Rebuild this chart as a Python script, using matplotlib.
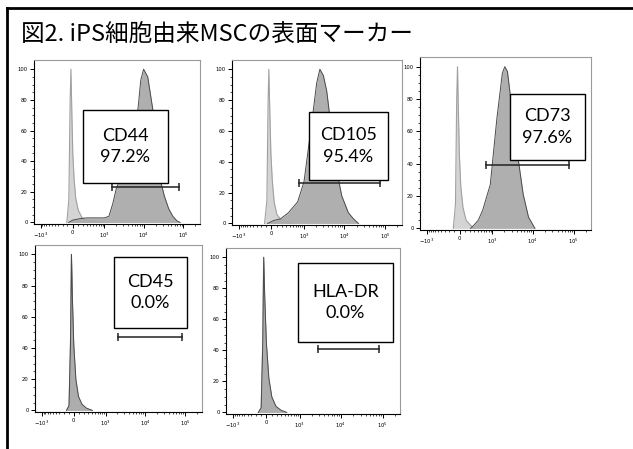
import numpy as np
import matplotlib
matplotlib.use("Agg")
import matplotlib.pyplot as plt
from matplotlib.lines import Line2D
from matplotlib.patches import Rectangle
from matplotlib.ticker import FixedLocator, FixedFormatter

# marker names and % positive
names = ["CD44", "CD105", "CD73", "CD45", "HLA-DR"]
pct = [97.2, 95.4, 97.6, 0.0, 0.0]

# stained sample histograms (fluorescence, % of mode)
cd44_x = [-73, 0, 148, 300, 545, 745, 1000, 1320, 1650, 2040, 2510, 3280, 4260, 5580, 7280,
          8500, 10000, 12700, 17200, 21900, 27900, 33500, 42700, 54400, 69400, 83300]
cd44_y = [0, 1.5, 2.5, 3, 3, 3, 3, 4, 12, 22, 28, 35, 45, 58, 75,
          93, 100, 95, 73, 45, 25, 17, 9, 4, 1, 0]
cd105_x = [-72, 48, 176, 365, 680, 1000, 1285, 1640, 2090, 2510, 3060, 3700, 4250, 5380,
           6830, 8650, 12600, 16800, 22400]
cd105_y = [0, 2, 3, 7, 14, 27, 48, 69, 91, 100, 96, 86, 73, 52, 32, 18, 7, 3, 0]
cd73_x = [212, 290, 405, 545, 880, 1300, 1780, 2045, 2380, 2900, 4090, 5790, 7800, 11200]
cd73_y = [0, 2, 5, 11, 27, 68, 96, 100, 97, 79, 48, 21, 7, 0]
cd45_x = [-140, -90, -60, -43, -25, 0, 40, 90, 160, 260, 420]
cd45_y = [0, 3, 45, 100, 72, 42, 20, 9, 4, 1.5, 0]
hla_x = [-150, -95, -65, -48, -30, 0, 45, 100, 180, 290, 450]
hla_y = [0, 3, 45, 100, 75, 45, 22, 10, 4, 1.5, 0]

# isotype / unstained controls
ctl1_x = [-110, -70, -45, -30, -15, 5, 30, 60, 110, 190, 300, 450, 700, 1000]
ctl1_y = [0, 15, 80, 100, 75, 45, 28, 16, 8, 3, 1.5, 0.8, 0.3, 0]
ctl2_x = [-130, -85, -62, -48, -32, -10, 15, 50, 100, 180, 300, 500]
ctl2_y = [0, 15, 80, 100, 75, 45, 28, 14, 6, 2.5, 1, 0]
ctl3_x = [-120, -78, -55, -40, -25, -5, 20, 60, 120, 210, 300]
ctl3_y = [0, 15, 80, 100, 75, 45, 26, 13, 5, 2, 0]
ctl4_x = [-140, -90, -62, -45, -28, 0, 35, 80, 150, 250, 400]
ctl4_y = [0, 3, 45, 100, 70, 40, 18, 8, 3, 1, 0]
ctl5_x = [-150, -95, -67, -50, -32, 0, 40, 95, 170, 280, 430]
ctl5_y = [0, 3, 45, 100, 72, 42, 20, 9, 3.5, 1, 0]

# gates (low, high, height)
gate_lo = [1560, 730, 680, 2080, 2760]
gate_hi = [76700, 74200, 75300, 84200, 81000]
gate_y = [23, 26, 39, 47, 41]

samples = [(cd44_x, cd44_y), (cd105_x, cd105_y), (cd73_x, cd73_y), (cd45_x, cd45_y), (hla_x, hla_y)]
controls = [(ctl1_x, ctl1_y), (ctl2_x, ctl2_y), (ctl3_x, ctl3_y), (ctl4_x, ctl4_y), (ctl5_x, ctl5_y)]

W, H = 633, 449
# axes boxes in pixels: x0, x1, y0(top), y1(bottom)
boxes = [(34, 200, 60, 224), (232, 402, 60, 225), (420, 591, 57, 230),
         (35, 202, 245, 412), (226, 400, 248, 414)]
# label boxes in axes fraction: x0, x1, y0, y1
lab_boxes = [(0.295, 0.807, 0.25, 0.695), (0.453, 0.918, 0.273, 0.685),
             (0.526, 0.965, 0.405, 0.786), (0.473, 0.91, 0.503, 0.928),
             (0.414, 0.96, 0.434, 0.91)]

WID = 326.0


def fwd(v):
    return np.arcsinh(np.asarray(v, dtype=float) / WID)


def inv(v):
    return WID * np.sinh(np.asarray(v, dtype=float))


major = [-1000, 0, 1000, 10000, 100000]
major_lab = [r"$-10^3$", "0", r"$10^3$", r"$10^4$", r"$10^5$"]
minor = [-k * 100 for k in range(1, 10)] + [k * 100 for k in range(1, 10)]
minor += [k * 1000 for k in range(2, 10)] + [k * 10000 for k in range(2, 10)] + [200000]

fig = plt.figure(figsize=(W / 100, H / 100), dpi=100)
fig.patch.set_facecolor("white")

for i in range(5):
    x0, x1, yt, yb = boxes[i]
    ax = fig.add_axes([x0 / W, 1 - yb / H, (x1 - x0) / W, (yb - yt) / H])
    ax.set_xscale("function", functions=(fwd, inv))
    ax.set_xlim(-1500, 262144)
    ax.set_ylim(-1, 106)

    cx, cy = controls[i]
    ax.fill_between(cx, cy, 0, color="#d4d4d4", lw=0, zorder=2)
    ax.plot(cx, cy, color="#a0a0a0", lw=0.8, zorder=2)
    sx, sy = samples[i]
    ax.fill_between(sx, sy, 0, color="#ababab", lw=0, zorder=3, alpha=0.95)
    ax.plot(sx, sy, color="#4a4a4a", lw=0.7, zorder=3)

    # gate bar
    ax.plot([gate_lo[i], gate_hi[i]], [gate_y[i], gate_y[i]], color="#222222", lw=1.1,
            marker="|", ms=6, mew=1.1, zorder=5)

    # label box
    bx0, bx1, by0, by1 = lab_boxes[i]
    ax.add_patch(Rectangle((bx0, by0), bx1 - bx0, by1 - by0, transform=ax.transAxes,
                           facecolor="white", edgecolor="black", lw=1.0, zorder=6))
    ax.text((bx0 + bx1) / 2, (by0 + by1) / 2, "%s\n%.1f%%" % (names[i], pct[i]),
            transform=ax.transAxes, ha="center", va="center", fontsize=13,
            family="Lato", linespacing=1.45, zorder=7)

    ax.xaxis.set_major_locator(FixedLocator(major))
    ax.xaxis.set_major_formatter(FixedFormatter(major_lab))
    ax.xaxis.set_minor_locator(FixedLocator(minor))
    ax.set_yticks(range(0, 101, 20))
    ax.set_yticks(range(0, 101, 5), minor=True)
    ax.tick_params(which="major", length=3, width=0.7, labelsize=3.8, pad=1.5, color="black")
    ax.tick_params(which="minor", length=1.5, width=0.5, color="black")
    for s in ("top", "right"):
        ax.spines[s].set_color("#9a9a9a")
        ax.spines[s].set_linewidth(0.8)
    for s in ("left", "bottom"):
        ax.spines[s].set_color("black")
        ax.spines[s].set_linewidth(0.8)

fig.text(21 / W, 1 - 35 / H, "図2. iPS細胞由来MSCの表面マーカー", fontsize=17,
         family=["Noto Sans CJK JP", "DejaVu Sans"], ha="left", va="center")

# outer frame (top and left edges only)
fig.add_artist(Line2D([7 / W, 7 / W], [0, 1 - 8 / H], transform=fig.transFigure, color="black", lw=2))
fig.add_artist(Line2D([7 / W, 1], [1 - 8 / H, 1 - 8 / H], transform=fig.transFigure, color="black", lw=2))

fig.savefig("out.png", dpi=100)
